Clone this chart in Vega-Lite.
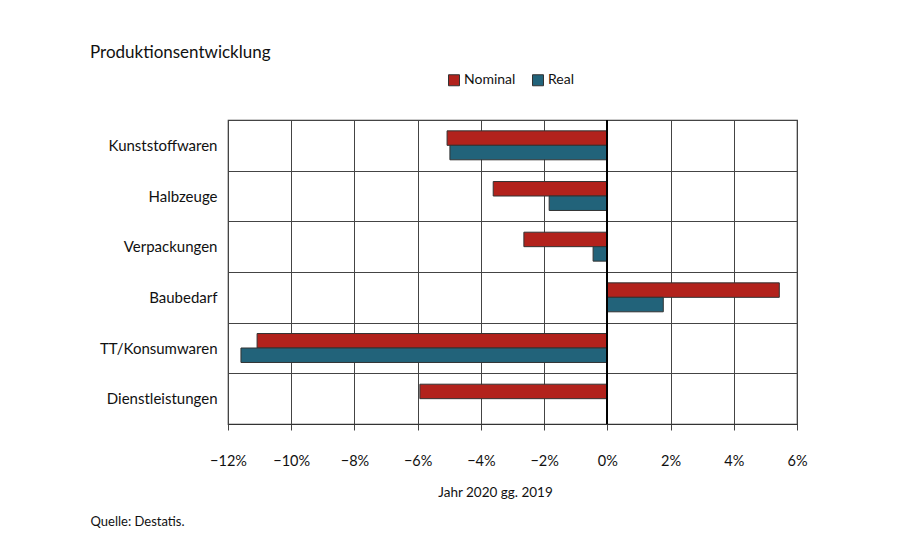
{
  "$schema": "https://vega.github.io/schema/vega-lite/v6.json",
  "width": 569,
  "height": 304,
  "autosize": {"type": "none"},
  "padding": {"left": 228, "top": 120, "right": 118, "bottom": 116},
  "background": "white",
  "config": {"font": "Lato", "view": {"stroke": "#333", "strokeWidth": 1.2}},
  "title": {"text": "Produktionsentwicklung", "anchor": "start", "frame": "group", "dx": -138, "fontSize": 17, "fontWeight": "normal", "color": "#111", "offset": 11},
  "data": {"values": [
    {"Kategorie": "Kunststoffwaren", "Serie": "Nominal", "Wert": -5.07},
    {"Kategorie": "Kunststoffwaren", "Serie": "Real", "Wert": -4.98},
    {"Kategorie": "Halbzeuge", "Serie": "Nominal", "Wert": -3.61},
    {"Kategorie": "Halbzeuge", "Serie": "Real", "Wert": -1.84},
    {"Kategorie": "Verpackungen", "Serie": "Nominal", "Wert": -2.64},
    {"Kategorie": "Verpackungen", "Serie": "Real", "Wert": -0.45},
    {"Kategorie": "Baubedarf", "Serie": "Nominal", "Wert": 5.44},
    {"Kategorie": "Baubedarf", "Serie": "Real", "Wert": 1.77},
    {"Kategorie": "TT/Konsumwaren", "Serie": "Nominal", "Wert": -11.08},
    {"Kategorie": "TT/Konsumwaren", "Serie": "Real", "Wert": -11.59},
    {"Kategorie": "Dienstleistungen", "Serie": "Nominal", "Wert": -5.93}
  ]},
  "layer": [
    {
      "mark": {"type": "bar", "stroke": "#333", "strokeWidth": 1},
      "encoding": {
        "y": {
          "field": "Kategorie", "type": "nominal",
          "sort": ["Kunststoffwaren", "Halbzeuge", "Verpackungen", "Baubedarf", "TT/Konsumwaren", "Dienstleistungen"],
          "scale": {"paddingInner": 0, "paddingOuter": 0},
          "axis": {
            "title": "Quelle: Destatis.", "titleAngle": 0, "titleAlign": "left", "titleBaseline": "alphabetic",
            "titleX": -138, "titleY": 405, "titleFontSize": 13, "titleFontWeight": "normal", "titleColor": "#111",
            "labelFontSize": 15, "labelPadding": 11, "labelColor": "#111",
            "ticks": false, "domain": false, "grid": true, "tickBand": "extent",
            "gridColor": "#444", "gridOpacity": 1, "gridWidth": 1
          }
        },
        "x": {
          "field": "Wert", "type": "quantitative",
          "scale": {"domain": [-12, 6], "nice": false, "zero": false},
          "axis": {
            "values": [-12, -11, -10, -9, -8, -7, -6, -5, -4, -3, -2, -1, 0, 1, 2, 3, 4, 5, 6],
            "labelExpr": "datum.value % 2 === 0 ? (datum.value < 0 ? '\u2212' + abs(datum.value) : datum.value) + '%' : ''",
            "labelOverlap": false, "labelFlush": false,
            "grid": true, "gridColor": "#444", "gridWidth": 1,
            "gridOpacity": {"condition": {"test": "datum.value % 2 !== 0", "value": 0}, "value": 1},
            "tickColor": "#444", "tickSize": 6,
            "labelPadding": 24, "labelFontSize": 14.5, "labelColor": "#111",
            "domainColor": "#333", "domainWidth": 1.2,
            "title": "Jahr 2020 gg.  2019", "titleFontSize": 13.5, "titleFontWeight": "normal", "titleColor": "#111", "titlePadding": 18,
            "titleX": 267
          }
        },
        "yOffset": {"field": "Serie", "sort": ["Nominal", "Real"], "scale": {"paddingOuter": 0.75, "paddingInner": 0}},
        "color": {
          "field": "Serie", "type": "nominal",
          "scale": {"domain": ["Nominal", "Real"], "range": ["#b2221c", "#22637a"]},
          "legend": {
            "orient": "none", "legendX": 219, "legendY": -47, "direction": "horizontal", "title": null,
            "symbolType": "square", "symbolSize": 121, "symbolStrokeColor": "#333", "symbolStrokeWidth": 1, "symbolOpacity": 1,
            "labelFontSize": 14, "labelOffset": 3, "columnPadding": 14, "labelColor": "#111"
          }
        }
      }
    },
    {
      "mark": {"type": "rule", "color": "#000", "strokeWidth": 1.3},
      "encoding": {"x": {"datum": 0}}
    }
  ]
}
